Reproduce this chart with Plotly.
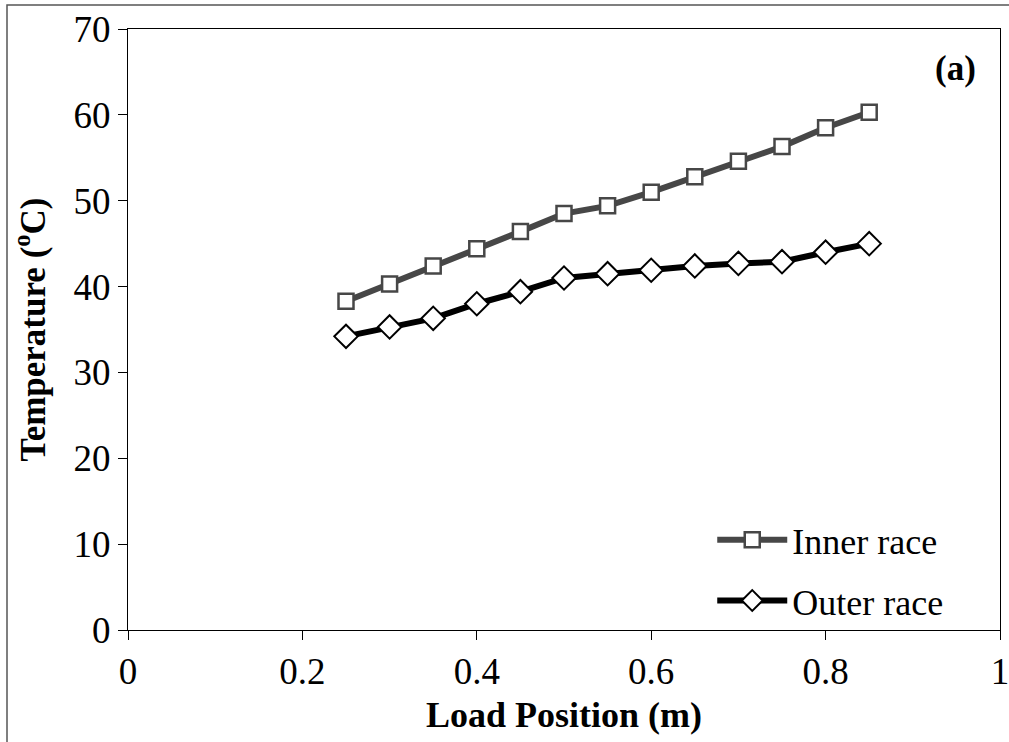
import plotly.graph_objects as go

load_position = [0.25, 0.30, 0.35, 0.40, 0.45, 0.50, 0.55, 0.60, 0.65, 0.70, 0.75, 0.80, 0.85]
inner_race = [38.3, 40.3, 42.4, 44.4, 46.4, 48.5, 49.4, 51.0, 52.8, 54.6, 56.3, 58.5, 60.3]
outer_race = [34.2, 35.3, 36.3, 38.0, 39.4, 41.0, 41.5, 41.9, 42.4, 42.7, 42.9, 44.0, 45.0]

x_ticks = [0, 0.2, 0.4, 0.6, 0.8, 1]
x_tick_labels = ["0", "0.2", "0.4", "0.6", "0.8", "1"]
y_ticks = [0, 10, 20, 30, 40, 50, 60, 70]

FONT = "Liberation Serif, Times New Roman, serif"

fig = go.Figure()
fig.add_trace(go.Scatter(
    x=load_position, y=inner_race, name="Inner race", mode="lines+markers", legendgroup="a",
    line=dict(color="#474747", width=6),
    marker=dict(symbol="square", size=15, color="white", line=dict(color="#474747", width=2.5)),
))
fig.add_trace(go.Scatter(
    x=load_position, y=outer_race, name="Outer race", mode="lines+markers", legendgroup="b",
    line=dict(color="#000000", width=6),
    marker=dict(symbol="diamond", size=18, color="white", line=dict(color="#000000", width=2)),
))

W, H = 1009, 742
L, R, T, B = 128, 9, 29, 112
pw, ph = W - L - R, H - T - B

fig.update_layout(
    width=W, height=H,
    margin=dict(l=L, r=R, t=T, b=B, autoexpand=False),
    paper_bgcolor="white", plot_bgcolor="white",
    font=dict(family=FONT, color="black", size=34),
    showlegend=True,
    legend=dict(
        x=0.67, y=0.2, xanchor="left", yanchor="top",
        bgcolor="rgba(0,0,0,0)", font=dict(size=36, family=FONT),
        itemwidth=70, tracegroupgap=11, itemsizing="trace",
    ),
    xaxis=dict(
        range=[0, 1], tickvals=x_ticks, ticktext=x_tick_labels, automargin=False,
        ticklabeloverflow="allow",
        showgrid=False, zeroline=False, showline=True, linecolor="black", linewidth=1,
        mirror=True, ticks="outside", ticklen=9, tickcolor="black",
        tickfont=dict(size=37, family=FONT),
        title=dict(text="<b>Load Position (m)</b>", font=dict(size=36, family=FONT), standoff=10),
    ),
    yaxis=dict(
        range=[0, 70], tickvals=y_ticks, automargin=False,
        showgrid=False, zeroline=False, showline=True, linecolor="black", linewidth=1,
        mirror=True, ticks="outside", ticklen=9, tickcolor="black",
        tickfont=dict(size=37, family=FONT),
        title=dict(text="<b>Temperature (<sup>o</sup>C)</b>", font=dict(size=35, family=FONT), standoff=17),
    ),
    annotations=[dict(
        x=0.975, y=0.935, xref="paper", yref="paper", text="<b>(a)</b>",
        showarrow=False, xanchor="right", yanchor="middle", font=dict(size=35, family=FONT),
    )],
    shapes=[dict(
        type="rect", xref="paper", yref="paper",
        x0=(7 - L) / pw, x1=(W + 5 - L) / pw,
        y0=-(H + 5 - (H - B)) / ph, y1=(H - B - 5) / ph,
        line=dict(color="#555555", width=1.5), fillcolor="rgba(0,0,0,0)", layer="below",
    )],
)

fig.write_html(
    "out.html",
    config={"displayModeBar": False},
    post_script="document.body.style.margin='0';document.body.style.overflow='hidden';",
)
